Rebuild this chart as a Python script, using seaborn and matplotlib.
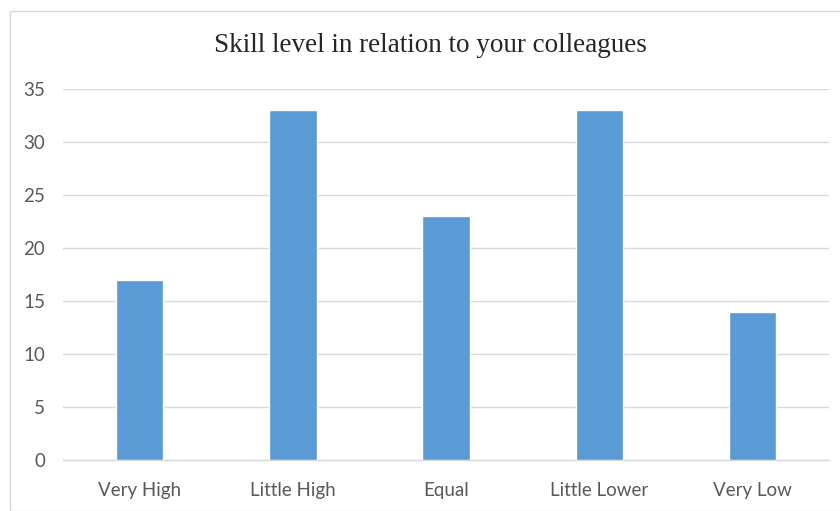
import matplotlib
matplotlib.use("Agg")
import matplotlib.pyplot as plt
import seaborn as sns
import pandas as pd
from matplotlib.patches import Rectangle

categories = ["Very High", "Little High", "Equal", "Little Lower", "Very Low"]
values = [17, 33, 23, 33, 14]
yticks = [0, 5, 10, 15, 20, 25, 30, 35]
title = "Skill level in relation to your colleagues"

df = pd.DataFrame({"category": categories, "value": values})

sns.set_theme(style="white")
plt.rcParams['font.family'] = ['Lato', 'DejaVu Sans']

fig = plt.figure(figsize=(8.4, 5.11), dpi=100)
ax = fig.add_axes([0.075, 0.0998, 0.912, 0.726])

sns.barplot(data=df, x="category", y="value", color="#5B9BD5", saturation=1,
            width=0.31, ax=ax, zorder=3)

ax.set_ylim(0, 35)
ax.set_xlim(-0.5, len(categories) - 0.5)
ax.set_yticks(yticks)
ax.yaxis.grid(True, color="#D9D9D9", linewidth=1.0, zorder=0)
ax.set_axisbelow(True)
for s in ["top", "right", "left"]:
    ax.spines[s].set_visible(False)
ax.spines["bottom"].set_color("#D9D9D9")
ax.spines["bottom"].set_linewidth(1.0)
ax.tick_params(axis="both", length=0, labelsize=13.5, colors="#595959")
ax.tick_params(axis="x", pad=16)
ax.tick_params(axis="y", pad=13)
ax.set_xlabel("")
ax.set_ylabel("")

fig.text(0.512, 0.91, title, ha="center", va="center",
         fontsize=19.5, family=["Liberation Serif"], color="#262626")

fig.patches.append(Rectangle((10 / 840, 0), 1.2, 1 - 11 / 511,
                             transform=fig.transFigure, fill=False,
                             edgecolor="#D9D9D9", linewidth=1.0))

fig.savefig("out.png", dpi=100)
